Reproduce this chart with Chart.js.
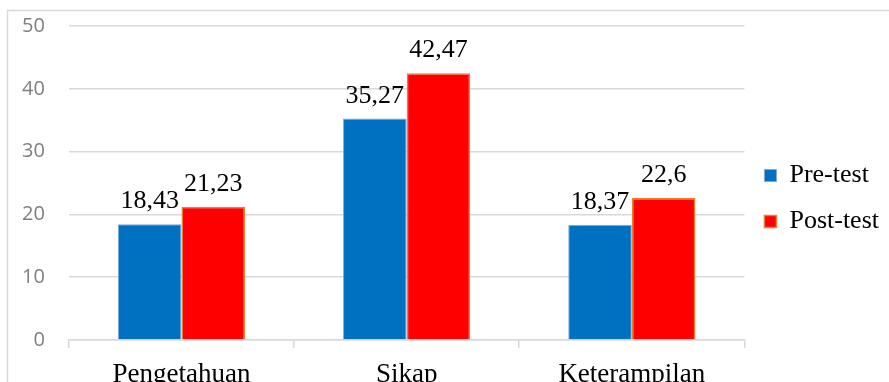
<!DOCTYPE html>
<html>
<head>
    <title>Pre-test vs Post-test</title>
    <script src="https://cdn.jsdelivr.net/npm/chart.js"></script>
    <style>
        html, body {
            margin: 0;
            padding: 0;
            overflow: hidden;
            background: #fff;
        }

        #wrap {
            position: relative;
            width: 889px;
            height: 400px;
        }
    </style>
</head>
<body>
    <div id="wrap">
        <canvas id="chart"></canvas>
    </div>

    <script>
        var categories = ['Pengetahuan', 'Sikap', 'Keterampilan'];
        var seriesNames = ['Pre-test', 'Post-test'];
        var preTest = [18.43, 35.27, 18.37];
        var postTest = [21.23, 42.47, 22.6];
        var yTicks = [0, 10, 20, 30, 40, 50];

        var serif = "'Liberation Serif', 'Times New Roman', serif";

        // outer frame of the chart (left and top edges visible)
        var framePlugin = {
            id: 'frame',
            beforeDraw: function(chart) {
                var ctx = chart.ctx;
                ctx.save();
                ctx.strokeStyle = '#d9d9d9';
                ctx.lineWidth = 1.5;
                ctx.beginPath();
                ctx.moveTo(7.5, chart.height + 5);
                ctx.lineTo(7.5, 10.5);
                ctx.lineTo(chart.width + 5, 10.5);
                ctx.stroke();
                ctx.restore();
            }
        };

        // canvas is taller than the window, so centre the legend on the visible part
        var legendShift = {
            id: 'legendShift',
            afterLayout: function(chart) {
                if (chart.legend) {
                    chart.legend.top -= 14;
                    chart.legend.bottom -= 14;
                }
            }
        };

        // value labels above every bar, comma as decimal separator
        var valueLabels = {
            id: 'valueLabels',
            afterDatasetsDraw: function(chart) {
                var ctx = chart.ctx;
                ctx.save();
                ctx.font = '26px ' + serif;
                ctx.fillStyle = '#000';
                ctx.textAlign = 'center';
                ctx.textBaseline = 'alphabetic';
                chart.data.datasets.forEach(function(ds, i) {
                    chart.getDatasetMeta(i).data.forEach(function(bar, j) {
                        var txt = String(ds.data[j]).replace('.', ',');
                        ctx.fillText(txt, bar.x, bar.y - 16);
                    });
                });
                ctx.restore();
            }
        };

        var ctx = document.getElementById('chart').getContext('2d');
        var chart = new Chart(ctx, {
            type: 'bar',
            data: {
                labels: categories,
                datasets: [{
                    label: seriesNames[0],
                    data: preTest,
                    backgroundColor: '#0070c0',
                    borderColor: '#7fa9d9',
                    borderWidth: 1
                }, {
                    label: seriesNames[1],
                    data: postTest,
                    backgroundColor: '#ff0000',
                    borderColor: '#ed7d31',
                    borderWidth: 1.5
                }]
            },
            options: {
                responsive: true,
                maintainAspectRatio: false,
                animation: false,
                layout: {
                    padding: { left: -2, top: 26, right: 0, bottom: 1 }
                },
                datasets: {
                    bar: {
                        categoryPercentage: 0.565,
                        barPercentage: 1
                    }
                },
                scales: {
                    x: {
                        afterFit: function(scale) {
                            scale.height = 59;
                        },
                        grid: {
                            offset: true,
                            drawOnChartArea: false,
                            drawTicks: true,
                            tickLength: 8,
                            color: '#d9d9d9',
                            lineWidth: 1.5
                        },
                        border: {
                            color: '#d9d9d9',
                            width: 1.5
                        },
                        ticks: {
                            color: '#000',
                            padding: 11,
                            font: { family: serif, size: 27 }
                        }
                    },
                    y: {
                        min: 0,
                        max: 50,
                        afterBuildTicks: function(scale) {
                            scale.ticks = yTicks.map(function(v) { return { value: v }; });
                        },
                        afterFit: function(scale) {
                            // tick padding would otherwise push the plot top down
                            scale.paddingTop = 0;
                        },
                        grid: {
                            color: '#d9d9d9',
                            lineWidth: 1.5,
                            drawTicks: false
                        },
                        border: { display: false },
                        ticks: {
                            color: '#7f7f7f',
                            padding: 24,
                            font: { family: "'Open Sans', sans-serif", size: 20 }
                        }
                    }
                },
                plugins: {
                    legend: {
                        position: 'right',
                        maxWidth: 146,
                        labels: {
                            color: '#000',
                            boxWidth: 12,
                            boxHeight: 12,
                            padding: 20,
                            font: { family: serif, size: 26 }
                        }
                    },
                    tooltip: { enabled: false }
                }
            },
            plugins: [framePlugin, legendShift, valueLabels]
        });
    </script>
</body>
</html>
